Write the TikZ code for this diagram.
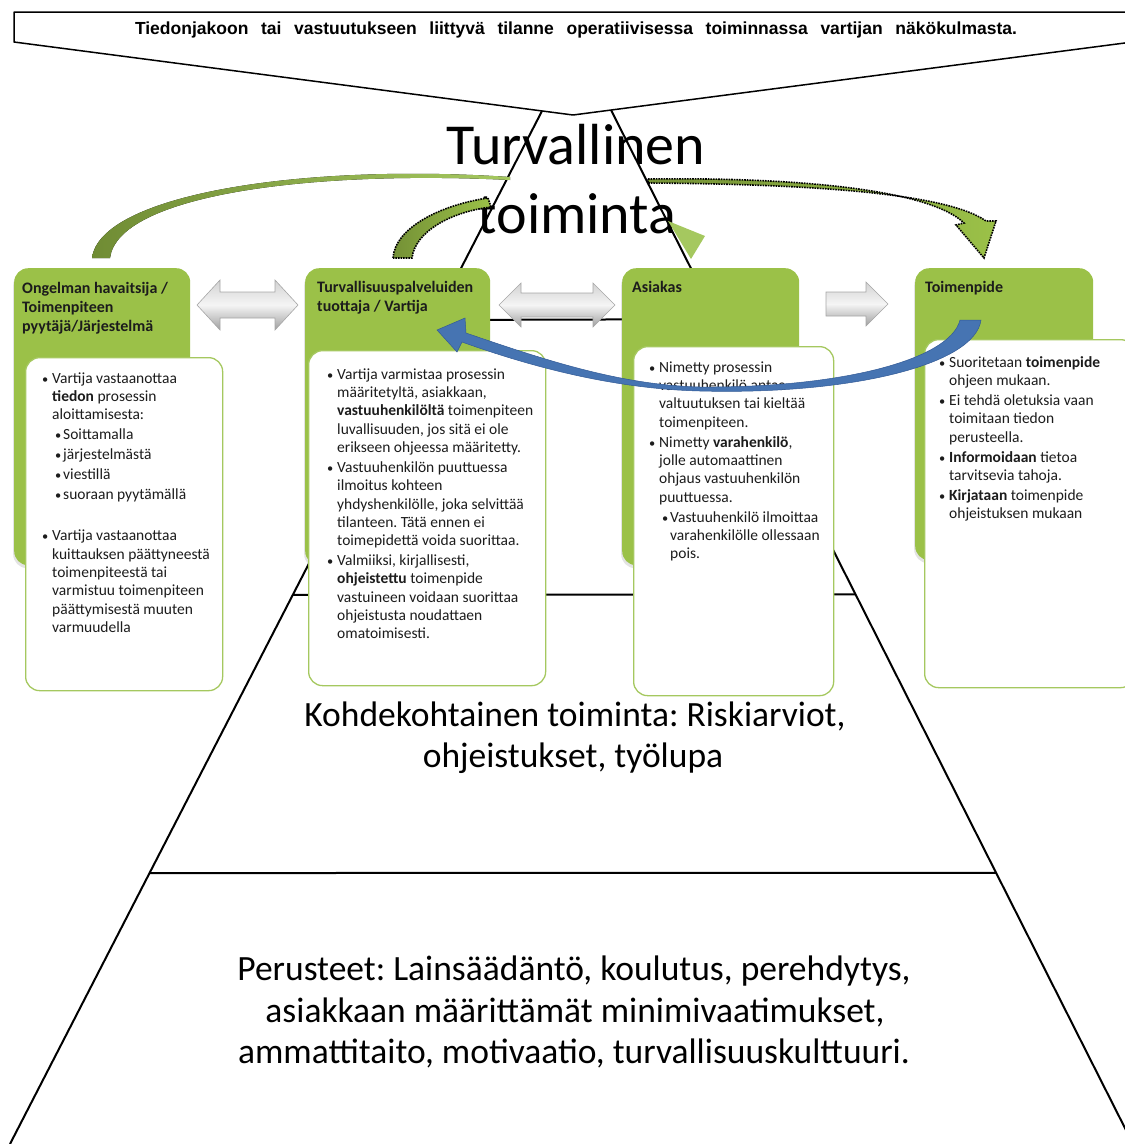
\documentclass[tikz,border=0pt]{standalone}
\usepackage{fontspec}
\usepackage{graphicx}
\setmainfont{Carlito}
\newfontfamily\bannerfont{Liberation Sans}
\usetikzlibrary{calc,shadows}
\frenchspacing

\definecolor{hdrgreen}{RGB}{155,193,72}
\definecolor{boxline}{RGB}{165,200,95}
\definecolor{arcdark}{RGB}{112,140,52}
\definecolor{arclight}{RGB}{165,200,95}
\definecolor{bluearr}{RGB}{70,116,178}
\definecolor{bluedark}{RGB}{50,90,150}
\definecolor{txt}{RGB}{28,28,28}

% bullet items with hanging indent
\newcommand\dotmark{\scalebox{0.8}{\textbullet}}
\newcommand\bul[1]{\par\hangindent=9pt\hangafter=1\noindent\hbox to 9pt{\rule{0pt}{12pt}\hskip-1pt\dotmark\hfil}#1}
\newcommand\subbul[1]{\par\hangindent=20pt\hangafter=1\noindent\hbox to 20pt{\rule{0pt}{12pt}\hskip 12pt\dotmark\hfil}#1}
\newcommand\bodytext[1]{\parbox[t]{230pt}{\setlength\parskip{1.7pt}\setlength\parindent{0pt}#1}}

\begin{document}
\begin{tikzpicture}[x=1pt,y=-1pt,
  pyr/.style={line width=2pt,black},
  hdr/.style={fill=hdrgreen,rounded corners=14pt,draw=none,inner sep=0,
    drop shadow={opacity=0.22,shadow xshift=-1pt,shadow yshift=-3pt}},
  txtbox/.style={fill=white,draw=boxline,line width=1.3pt,rounded corners=14pt,inner sep=0},
  hdrlabel/.style={anchor=north west,inner sep=0,align=left,
    font=\fontsize{16}{19}\selectfont\bfseries,text=txt},
  body/.style={anchor=north west,inner sep=0,
    font=\fontsize{15.5}{18.3}\selectfont,text=txt},
  bigtext/.style={anchor=base,inner sep=0,font=\fontsize{58}{69}\selectfont},
  midtext/.style={anchor=base,inner sep=0,font=\fontsize{35.5}{42}\selectfont},
  grayarrow/.style={draw=gray!70,line width=0.6pt,top color=gray!35,bottom color=gray!75,middle color=gray!8},
  dotarrow/.style={draw=black,densely dotted,line width=1.6pt,left color=hdrgreen!75!black,right color=hdrgreen},
]
\useasboundingbox (0,0) rectangle (1125,1144);
\clip (0,0) rectangle (1125,1144);

% pyramid
\coordinate (apexL) at (542,111);
\coordinate (apexR) at (611,110);
\coordinate (baseL) at (10,1144);
\coordinate (baseR) at (1133,1144);
\draw[pyr] (apexL) -- (baseL);
\draw[pyr] (apexR) -- (baseR);
\draw[pyr] ($(apexL)!0.2023!(baseL)$) -- ($(apexR)!0.2023!(baseR)$);
\draw[pyr] ($(apexL)!0.4685!(baseL)$) -- ($(apexR)!0.4685!(baseR)$);
\draw[pyr] ($(apexL)!0.7377!(baseL)$) -- ($(apexR)!0.7377!(baseR)$);

% banner
\draw[fill=white,line width=1.5pt,line join=round] (14,12) -- (1140,12) -- (1140,41) -- (573,115) -- (14,42) -- cycle;
\node[anchor=base,inner sep=0] (banner) at (576,34)
  {\makebox[882pt][s]{\bannerfont\bfseries\fontsize{17.5}{20}\selectfont Tiedonjakoon tai vastuutukseen liittyvä tilanne operatiivisessa toiminnassa vartijan näkökulmasta.}};

% titles
\node[bigtext] (t1) at (576,164) {Turvallinen};
\node[bigtext] (t2) at (577,233) {toiminta};
\node[midtext] (k1) at (575,726) {Kohdekohtainen toiminta: Riskiarviot,};
\node[midtext] (k2) at (573,767) {ohjeistukset, työlupa};
\node[midtext] (p1) at (574,980) {Perusteet: Lainsäädäntö, koulutus, perehdytys,};
\node[midtext] (p2) at (575,1022) {asiakkaan määrittämät minimivaatimukset,};
\node[midtext] (p3) at (574,1063) {ammattitaito, motivaatio, turvallisuuskulttuuri.};

% solid green curved arrow
\fill[left color=arcdark,right color=arclight] (92,258) .. controls (100,195) and (300,163) .. (510,177)
  -- (510,180) .. controls (305,170) and (118,196) .. (110,258) -- cycle;
\fill[fill=arclight] (668,221) -- (705,236) -- (691,259) -- cycle;

% dotted curved arrow
\path[dotarrow] (393,258) .. controls (395,228) and (440,205) .. (488,198)
  -- (491,207) .. controls (450,212) and (415,232) .. (412,258) -- cycle;
\path[dotarrow] (648,179) .. controls (800,177) and (930,190) .. (964,223)
  -- (956,225) -- (984,258) -- (996,221) -- (986,221)
  .. controls (945,192) and (800,184) .. (648,183) -- cycle;

% headers
\node[hdr,anchor=north west,minimum width=176,minimum height=297] (h1) at (14,268) {};
\node[hdr,anchor=north west,minimum width=185,minimum height=297] (h2) at (305,268) {};
\node[hdr,anchor=north west,minimum width=177,minimum height=297] (h3) at (622,268) {};
\node[hdr,anchor=north west,minimum width=178,minimum height=292] (h4) at (915,268) {};

\node[hdrlabel] (l1) at (22,281) {\rule{0pt}{12pt}Ongelman havaitsija /\\Toimenpiteen\\pyytäjä/Järjestelmä};
\node[hdrlabel] (l2) at (317,280) {\rule{0pt}{12pt}Turvallisuuspalveluiden\\tuottaja / Vartija};
\node[hdrlabel] (l3) at (632,280) {\rule{0pt}{12pt}Asiakas};
\node[hdrlabel] (l4) at (925,280) {\rule{0pt}{12pt}Toimenpide};

% text boxes
\node[txtbox,anchor=north west,minimum width=197,minimum height=333] (b1) at (25,357) {};
\node[txtbox,anchor=north west,minimum width=237,minimum height=335] (b2) at (308,350) {};
\node[txtbox,anchor=north west,minimum width=200,minimum height=349] (b3) at (633,346) {};
\node[txtbox,anchor=north west,minimum width=210,minimum height=348] (b4) at (924,339) {};

\node[body] (x1) at (43,371) {\bodytext{%
  \bul{Vartija vastaanottaa\\\textbf{tiedon} prosessin\\aloittamisesta:}
  \subbul{Soittamalla}
  \subbul{järjestelmästä}
  \subbul{viestillä}
  \subbul{suoraan pyytämällä}
  \par\vspace{21pt}
  \bul{Vartija vastaanottaa\\kuittauksen päättyneestä\\toimenpiteestä tai\\varmistuu toimenpiteen\\päättymisestä muuten\\varmuudella}}};
\node[body] (x2) at (328,367) {\bodytext{%
  \bul{Vartija varmistaa prosessin\\määritetyltä, asiakkaan,\\\textbf{vastuuhenkilöltä} toimenpiteen\\luvallisuuden, jos sitä ei ole\\erikseen ohjeessa määritetty.}
  \bul{Vastuuhenkilön puuttuessa\\ilmoitus kohteen\\yhdyshenkilölle, joka selvittää\\tilanteen. Tätä ennen ei\\toimepidettä voida suorittaa.}
  \bul{Valmiiksi, kirjallisesti,\\\textbf{ohjeistettu} toimenpide\\vastuineen voidaan suorittaa\\ohjeistusta noudattaen\\omatoimisesti.}}};
\node[body] (x3) at (650,360) {\bodytext{%
  \bul{Nimetty prosessin\\vastuuhenkilö antaa\\valtuutuksen tai kieltää\\toimenpiteen.}
  \bul{Nimetty \textbf{varahenkilö},\\jolle automaattinen\\ohjaus vastuuhenkilön\\puuttuessa.}
  \subbul{Vastuuhenkilö ilmoittaa\\varahenkilölle ollessaan\\pois.}}};
\node[body] (x4) at (940,355) {\bodytext{%
  \bul{Suoritetaan \textbf{toimenpide}\\ohjeen mukaan.}
  \bul{Ei tehdä oletuksia vaan\\toimitaan tiedon\\perusteella.}
  \bul{\textbf{Informoidaan} tietoa\\tarvitsevia tahoja.}
  \bul{\textbf{Kirjataan} toimenpide\\ohjeistuksen mukaan}}};

% gray block arrows between the boxes
\path[grayarrow] (197,305) -- (220,280) -- (220,292) -- (275,292) -- (275,280) -- (298,305)
  -- (275,330) -- (275,318) -- (220,318) -- (220,330) -- cycle;
\path[grayarrow] (499,305) -- (521,283) -- (521,293) -- (593,293) -- (593,283) -- (615,305)
  -- (593,327) -- (593,317) -- (521,317) -- (521,327) -- cycle;
\path[grayarrow] (826,292) -- (866,292) -- (866,282) -- (888,304) -- (866,326) -- (866,316)
  -- (826,316) -- cycle;

% blue curved arrow back to the guard
\path[fill=bluearr,draw=bluedark,line width=0.5pt]
  (960,320) -- (981,320) .. controls (975,365) and (850,395) .. (700,391)
  .. controls (620,389) and (540,370) .. (462,342)
  -- (457,352) -- (437,330) -- (465,318) -- (466,333)
  .. controls (545,360) and (620,385) .. (700,387)
  .. controls (840,388) and (950,360) .. (960,320) -- cycle;
\end{tikzpicture}
\end{document}
